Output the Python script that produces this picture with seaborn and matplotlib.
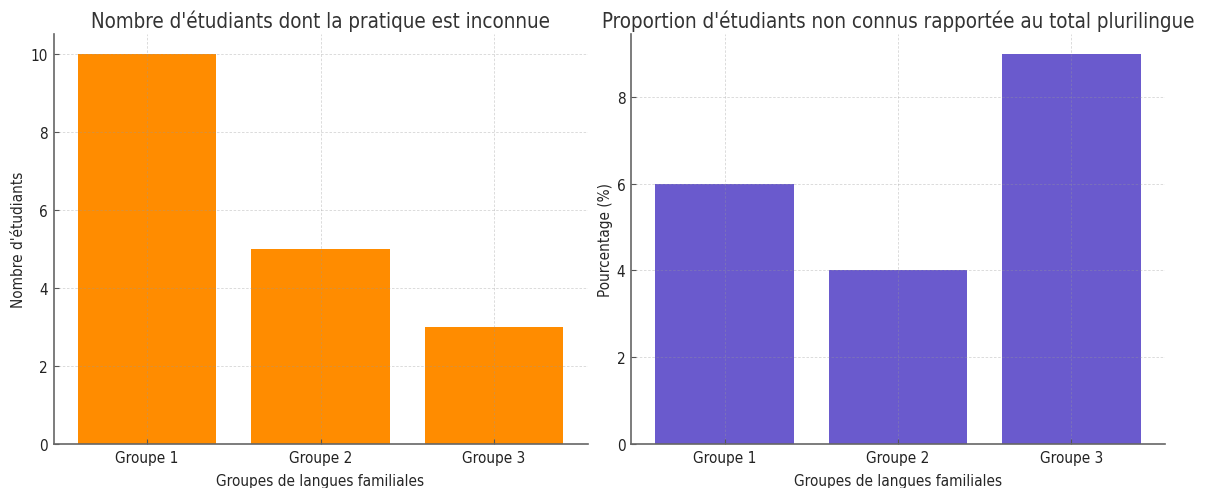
import matplotlib
matplotlib.use("Agg")
import matplotlib.pyplot as plt
import seaborn as sns
import pandas as pd

groupes = ["Groupe 1", "Groupe 2", "Groupe 3"]
nb_inconnus = [10, 5, 3]
pourcentage = [6, 4, 9]

sns.set_style("white")
plt.rcParams['font.family'] = ['DejaVu Sans']
plt.rcParams['font.stretch'] = 'condensed'

fig = plt.figure(figsize=(12.12, 4.89), dpi=100)
ax1 = fig.add_axes([53.5 / 1212, 44 / 489, 534 / 1212, 410 / 489])
ax2 = fig.add_axes([631 / 1212, 44 / 489, 534 / 1212, 410 / 489])

df = pd.DataFrame({"Groupe": groupes, "Nombre": nb_inconnus, "Pourcentage": pourcentage})

# bars at zorder 2 so the grid (2.5 with axisbelow=False) shows over them
sns.barplot(data=df, x="Groupe", y="Nombre", color="#FF8C00", saturation=1, linewidth=0, ax=ax1, zorder=2)
ax1.set_title("Nombre d'étudiants dont la pratique est inconnue", fontsize=14.8, color="#333333", pad=5)
ax1.set_xlabel("Groupes de langues familiales", fontsize=11, labelpad=6)
ax1.set_ylabel("Nombre d'étudiants", fontsize=11, labelpad=3)

sns.barplot(data=df, x="Groupe", y="Pourcentage", color="#6A5ACD", saturation=1, linewidth=0, ax=ax2, zorder=2)
ax2.set_title("Proportion d'étudiants non connus rapportée au total plurilingue", fontsize=14.8, color="#333333", pad=5)
ax2.set_xlabel("Groupes de langues familiales", fontsize=11, labelpad=6)
ax2.set_ylabel("Pourcentage (%)", fontsize=11, labelpad=3)

for ax in (ax1, ax2):
    ax.set_xlim(-0.54, 2.54)
    ax.set_axisbelow(False)
    ax.grid(True, linestyle=(0, (3, 2)), color="#999999", alpha=0.4, linewidth=0.6)
    for s in ("top", "right"):
        ax.spines[s].set_visible(False)
    for s in ("left", "bottom"):
        ax.spines[s].set_color("#666666")
        ax.spines[s].set_linewidth(1.2)
        ax.spines[s].set_zorder(5)
    ax.tick_params(axis="both", labelsize=11, length=3.5, width=0.8, direction="in", pad=4,
                   left=True, bottom=True, color="#555555", labelcolor="#222222")

fig.savefig("out.png", dpi=100)
